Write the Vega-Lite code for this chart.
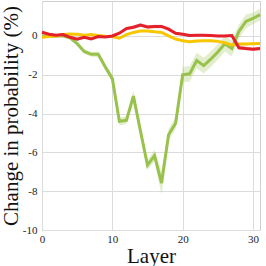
{
  "$schema": "https://vega.github.io/schema/vega-lite/v6.json",
  "width": 218,
  "height": 229,
  "autosize": "none",
  "padding": {"left": 42, "top": 1, "right": 6, "bottom": 36},
  "config": {
    "view": {"stroke": "#d0d0d0", "strokeWidth": 1},
    "font": "Liberation Serif",
    "axis": {
      "gridColor": "#dcdcdc", "gridWidth": 1, "domain": false, "ticks": false,
      "labelFont": "Liberation Serif", "labelFontSize": 11, "labelColor": "#222",
      "titleFont": "Liberation Serif", "titleFontSize": 21, "titleFontWeight": "normal", "titleColor": "#111"
    }
  },
  "datasets": {
    "d": [
      {"layer":0,"s":"a","m":0.0,"e":0.05},{"layer":1,"s":"a","m":0.0,"e":0.05},{"layer":2,"s":"a","m":0.0,"e":0.05},{"layer":3,"s":"a","m":0.0,"e":0.05},
      {"layer":4,"s":"a","m":-0.1,"e":0.08},{"layer":5,"s":"a","m":-0.4,"e":0.1},{"layer":6,"s":"a","m":-0.8,"e":0.12},{"layer":7,"s":"a","m":-0.95,"e":0.12},
      {"layer":8,"s":"a","m":-0.95,"e":0.15},{"layer":9,"s":"a","m":-1.6,"e":0.15},{"layer":10,"s":"a","m":-2.2,"e":0.2},{"layer":11,"s":"a","m":-4.4,"e":0.2},
      {"layer":12,"s":"a","m":-4.35,"e":0.2},{"layer":13,"s":"a","m":-3.1,"e":0.3},{"layer":14,"s":"a","m":-4.9,"e":0.3},{"layer":15,"s":"a","m":-6.66,"e":0.25},
      {"layer":16,"s":"a","m":-6.17,"e":0.3},{"layer":17,"s":"a","m":-7.58,"e":0.6},{"layer":18,"s":"a","m":-5.09,"e":0.3},{"layer":19,"s":"a","m":-4.5,"e":0.3},
      {"layer":20,"s":"a","m":-2.0,"e":0.4},{"layer":21,"s":"a","m":-1.95,"e":0.4},{"layer":22,"s":"a","m":-1.27,"e":0.4},{"layer":23,"s":"a","m":-1.53,"e":0.4},
      {"layer":24,"s":"a","m":-1.2,"e":0.4},{"layer":25,"s":"a","m":-0.83,"e":0.4},{"layer":26,"s":"a","m":-0.4,"e":0.4},{"layer":27,"s":"a","m":-0.65,"e":0.4},
      {"layer":28,"s":"a","m":0.23,"e":0.35},{"layer":29,"s":"a","m":0.75,"e":0.35},{"layer":30,"s":"a","m":0.9,"e":0.3},{"layer":31,"s":"a","m":1.1,"e":0.3},

      {"layer":0,"s":"b","m":-0.07,"e":0.04},{"layer":1,"s":"b","m":-0.03,"e":0.04},{"layer":2,"s":"b","m":0.0,"e":0.04},{"layer":3,"s":"b","m":0.07,"e":0.04},
      {"layer":4,"s":"b","m":0.1,"e":0.04},{"layer":5,"s":"b","m":0.09,"e":0.04},{"layer":6,"s":"b","m":0.04,"e":0.04},{"layer":7,"s":"b","m":0.07,"e":0.04},
      {"layer":8,"s":"b","m":0.02,"e":0.04},{"layer":9,"s":"b","m":-0.02,"e":0.04},{"layer":10,"s":"b","m":-0.03,"e":0.04},{"layer":11,"s":"b","m":-0.12,"e":0.04},
      {"layer":12,"s":"b","m":0.07,"e":0.04},{"layer":13,"s":"b","m":0.18,"e":0.04},{"layer":14,"s":"b","m":0.25,"e":0.04},{"layer":15,"s":"b","m":0.25,"e":0.04},
      {"layer":16,"s":"b","m":0.21,"e":0.04},{"layer":17,"s":"b","m":0.18,"e":0.04},{"layer":18,"s":"b","m":0.0,"e":0.04},{"layer":19,"s":"b","m":-0.16,"e":0.04},
      {"layer":20,"s":"b","m":-0.25,"e":0.04},{"layer":21,"s":"b","m":-0.3,"e":0.04},{"layer":22,"s":"b","m":-0.26,"e":0.04},{"layer":23,"s":"b","m":-0.25,"e":0.04},
      {"layer":24,"s":"b","m":-0.25,"e":0.04},{"layer":25,"s":"b","m":-0.28,"e":0.04},{"layer":26,"s":"b","m":-0.35,"e":0.04},{"layer":27,"s":"b","m":-0.47,"e":0.05},
      {"layer":28,"s":"b","m":-0.42,"e":0.05},{"layer":29,"s":"b","m":-0.42,"e":0.05},{"layer":30,"s":"b","m":-0.4,"e":0.05},{"layer":31,"s":"b","m":-0.39,"e":0.05},

      {"layer":0,"s":"c","m":0.19,"e":0.07},{"layer":1,"s":"c","m":0.09,"e":0.06},{"layer":2,"s":"c","m":0.04,"e":0.06},{"layer":3,"s":"c","m":0.07,"e":0.06},
      {"layer":4,"s":"c","m":-0.07,"e":0.06},{"layer":5,"s":"c","m":-0.17,"e":0.06},{"layer":6,"s":"c","m":-0.07,"e":0.06},{"layer":7,"s":"c","m":-0.15,"e":0.06},
      {"layer":8,"s":"c","m":-0.03,"e":0.06},{"layer":9,"s":"c","m":-0.05,"e":0.06},{"layer":10,"s":"c","m":0.0,"e":0.06},{"layer":11,"s":"c","m":0.14,"e":0.07},
      {"layer":12,"s":"c","m":0.38,"e":0.09},{"layer":13,"s":"c","m":0.45,"e":0.09},{"layer":14,"s":"c","m":0.56,"e":0.09},{"layer":15,"s":"c","m":0.46,"e":0.09},
      {"layer":16,"s":"c","m":0.49,"e":0.09},{"layer":17,"s":"c","m":0.49,"e":0.09},{"layer":18,"s":"c","m":0.35,"e":0.08},{"layer":19,"s":"c","m":0.14,"e":0.07},
      {"layer":20,"s":"c","m":0.09,"e":0.06},{"layer":21,"s":"c","m":0.02,"e":0.06},{"layer":22,"s":"c","m":0.03,"e":0.06},{"layer":23,"s":"c","m":0.03,"e":0.06},
      {"layer":24,"s":"c","m":0.02,"e":0.06},{"layer":25,"s":"c","m":0.0,"e":0.06},{"layer":26,"s":"c","m":0.0,"e":0.06},{"layer":27,"s":"c","m":0.02,"e":0.06},
      {"layer":28,"s":"c","m":-0.61,"e":0.09},{"layer":29,"s":"c","m":-0.65,"e":0.09},{"layer":30,"s":"c","m":-0.68,"e":0.09},{"layer":31,"s":"c","m":-0.65,"e":0.09}
    ]
  },
  "data": {"name": "d"},
  "transform": [
    {"calculate": "datum.m - datum.e", "as": "lo"},
    {"calculate": "datum.m + datum.e", "as": "hi"}
  ],
  "encoding": {
    "x": {"field": "layer", "type": "quantitative", "scale": {"domain": [0, 31], "nice": false},
      "axis": {"title": "Layer", "values": [0, 10, 20, 30], "labelPadding": 3, "titlePadding": 1, "labelFlush": false}},
    "color": {"field": "s", "type": "nominal", "legend": null,
      "scale": {"domain": ["a", "b", "c"], "range": ["#98c24c", "#f7c600", "#e4202a"]}}
  },
  "layer": [
    {"mark": {"type": "area", "opacity": 0.28},
     "encoding": {"y": {"field": "lo", "type": "quantitative"}, "y2": {"field": "hi"}}},
    {"mark": {"type": "line", "strokeWidth": 3},
     "encoding": {"y": {"field": "m", "type": "quantitative",
       "scale": {"domain": [-10, 1.8], "nice": false, "zero": false},
       "axis": {"title": "Change in probability (%)", "values": [-10, -8, -6, -4, -2, 0], "labelExpr": "'' + datum.value",
         "labelOverlap": false, "labelFlush": false, "labelPadding": 5, "titlePadding": 1}}}}
  ]
}
